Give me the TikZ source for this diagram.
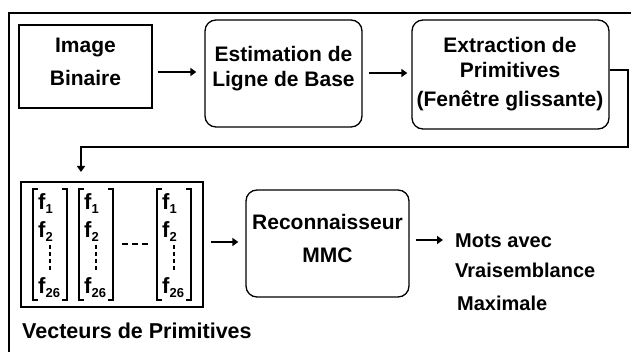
\documentclass[tikz,border=0pt]{standalone}
\usepackage{fontspec}
\setmainfont{Liberation Sans}
\usetikzlibrary{arrows.meta}
\newcommand\fsubx[1]{\raisebox{-4pt}{\fontsize{13}{13}\selectfont #1}}
\begin{document}
\begin{tikzpicture}[x=1pt,y=-1pt,
  box/.style={draw, line width=1.3pt, inner sep=0pt},
  rbox/.style={box, rounded corners=11pt},
  txt/.style={font=\bfseries\fontsize{21}{25}\selectfont, inner sep=0pt, anchor=base},
  otxt/.style={font=\bfseries\fontsize{20}{24}\selectfont, inner sep=0pt, anchor=base west},
  ftxt/.style={font=\bfseries\fontsize{22}{24}\selectfont, inner sep=0pt, anchor=base west},
  arr/.style={line width=2.6pt, -{Triangle[length=6pt,width=8pt]}},
  brk/.style={line width=1.3pt},
  vdash/.style={line width=1.2pt, dash pattern=on 4pt off 3pt},
  hdash/.style={line width=1.4pt, dash pattern=on 6pt off 4pt}
]
\useasboundingbox (0,0) rectangle (631,352);
% outer frame
\draw[line width=1.3pt] (9,360) -- (9,13) -- (640,13);

% boxes
\node[box, minimum width=133pt, minimum height=83pt] (img) at (85.5,66.5) {};
\node[rbox, minimum width=157pt, minimum height=107pt] (est) at (283.5,73.5) {};
\node[rbox, minimum width=197pt, minimum height=109pt] (ext) at (510.5,74.5) {};
\node[box, minimum width=182pt, minimum height=125pt] (vec) at (112,244.5) {};
\node[rbox, minimum width=163pt, minimum height=107pt] (rec) at (327.5,243.5) {};

% texts
\node[txt] (img1) at (85.5,53) {Image};
\node[txt] (img2) at (85.5,86) {Binaire};
\node[txt] (est1) at (283.5,62) {Estimation de};
\node[txt] (est2) at (283.5,87) {Ligne de Base};
\node[txt] (ext1) at (510,53) {Extraction de};
\node[txt] (ext2) at (510,78) {Primitives};
\node[txt] (ext3) at (510,107) {(Fenêtre glissante)};
\node[txt] (rec1) at (327.5,230) {Reconnaisseur};
\node[txt] (rec2) at (327.5,263) {MMC};
\node[otxt] (out1) at (455,248) {Mots avec};
\node[otxt] (out2) at (455,277) {Vraisemblance};
\node[otxt] (out3) at (457,310) {Maximale};
\node[font=\bfseries\fontsize{21.5}{25}\selectfont, inner sep=0pt, anchor=base west] (veclab) at (22,338) {Vecteurs de Primitives};

% feature vectors
\foreach \bx/\nm in {33/a,79/b,157/c}{
  \draw[brk] (\bx+5,189) -- (\bx,189) -- (\bx,300) -- (\bx+5,300);
  \draw[brk] (\bx+29,189) -- (\bx+34,189) -- (\bx+34,300) -- (\bx+29,300);
  \node[ftxt] (fa\nm) at (\bx+5,210) {f\fsubx{1}};
  \node[ftxt] (fb\nm) at (\bx+5,238) {f\fsubx{2}};
  \node[ftxt] (fc\nm) at (\bx+5,294) {f\fsubx{26}};
  \draw[vdash] (\bx+17,245) -- (\bx+17,271);
}
\coordinate (dl) at (122,244);
\coordinate (dr) at (148,244);
\draw[hdash] (dl) -- (dr);

% connectors
\draw[arr] ([xshift=5pt]img.east |- 0,72) -- ([xshift=-8pt]est.west |- 0,72);
\draw[arr] ([xshift=6pt]est.east |- 0,73) -- ([xshift=-4pt]ext.west |- 0,73);
\coordinate (r1) at (628,147);
\coordinate (d1) at (81,172);
\draw[arr] (ext.east |- 0,70) -| (r1) -| (d1);
\draw[arr] ([xshift=7pt]vec.east |- 0,242) -- ([xshift=-7pt]rec.west |- 0,242);
\draw[arr] ([xshift=6pt]rec.east |- 0,240) -- ([xshift=-12pt]out1.west |- 0,240);
\end{tikzpicture}
\end{document}
